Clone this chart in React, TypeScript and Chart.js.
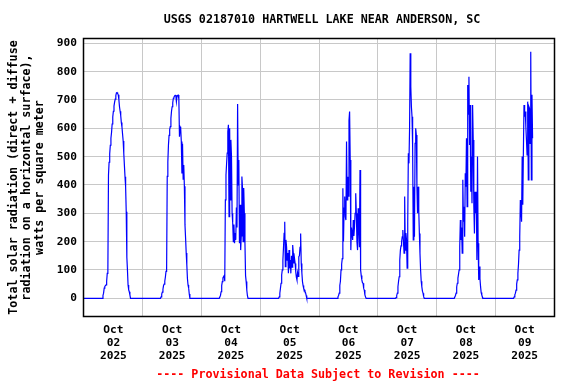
import React, { useEffect, useRef } from "react";
import { Chart, registerables } from "chart.js";

Chart.register(...registerables);

const TITLE = "USGS 02187010 HARTWELL LAKE NEAR ANDERSON, SC";
const Y_TITLE = [
  "Total solar radiation (direct + diffuse",
  "radiation on a horizontal surface),",
  "watts per square meter",
];
const FOOTER = "---- Provisional Data Subject to Revision ----";

const DATE_LABELS = [
  ["Oct", "02", "2025"],
  ["Oct", "03", "2025"],
  ["Oct", "04", "2025"],
  ["Oct", "05", "2025"],
  ["Oct", "06", "2025"],
  ["Oct", "07", "2025"],
  ["Oct", "08", "2025"],
  ["Oct", "09", "2025"],
];
const Y_TICKS = [0, 100, 200, 300, 400, 500, 600, 700, 800, 900];

// Each daily array: 15-minute readings (W/m²) starting at 07:00 local time; night is 0.
const FIRST_READING_HOUR = 7;
const STEP_HOURS = 0.25;

const OCT02 = [0, 0, 0, 10, 18, 36, 42, 45, 47, 60, 88, 92, 435, 480, 510, 540, 565, 585, 615, 640, 660, 678, 692, 703, 715, 725, 726, 722, 718, 700, 676, 660, 645, 620, 605, 580, 555, 512, 470, 429, 394, 305, 145, 100, 47, 30, 23, 12, 0, 0, 0, 0];
const OCT03 = [0, 0, 5, 15, 22, 32, 45, 50, 60, 75, 95, 100, 430, 480, 541, 575, 595, 606, 635, 660, 676, 690, 706, 710, 714, 716, 717, 694, 714, 716, 717, 703, 570, 605, 600, 553, 440, 545, 420, 470, 395, 259, 212, 160, 118, 70, 47, 36, 15, 0, 0, 0];
const OCT04 = [0, 0, 0, 10, 23, 45, 59, 72, 76, 80, 60, 347, 435, 475, 512, 588, 612, 288, 600, 347, 559, 500, 300, 266, 200, 260, 194, 230, 206, 320, 250, 686, 400, 488, 194, 330, 170, 220, 430, 389, 200, 389, 300, 194, 80, 59, 29, 10, 0, 0, 0, 0];
const OCT05 = [0, 0, 0, 5, 18, 35, 53, 82, 100, 135, 180, 229, 270, 112, 206, 182, 135, 160, 88, 170, 105, 135, 88, 150, 110, 188, 159, 123, 140, 123, 94, 75, 65, 90, 77, 147, 150, 180, 229, 123, 90, 59, 45, 35, 30, 25, 20, 10, 0, 0, 0, 0];
const OCT06 = [0, 0, 0, 5, 10, 18, 45, 60, 100, 120, 140, 388, 200, 318, 359, 288, 276, 553, 347, 429, 360, 627, 659, 488, 170, 250, 229, 206, 276, 220, 253, 300, 371, 300, 200, 170, 318, 250, 180, 453, 100, 80, 65, 55, 53, 35, 29, 12, 5, 0, 0, 0];
const OCT07 = [0, 0, 2, 10, 18, 41, 60, 76, 135, 170, 185, 200, 217, 241, 200, 159, 359, 170, 230, 206, 106, 270, 512, 476, 600, 865, 747, 676, 641, 535, 206, 394, 217, 547, 600, 576, 394, 300, 394, 312, 229, 159, 100, 60, 41, 25, 18, 6, 0, 0, 0, 0];
const OCT08 = [0, 0, 0, 10, 18, 40, 53, 71, 85, 100, 182, 276, 206, 250, 159, 418, 270, 323, 217, 441, 394, 565, 323, 753, 650, 782, 541, 682, 376, 500, 335, 682, 559, 323, 229, 376, 300, 376, 135, 500, 194, 65, 112, 70, 41, 20, 12, 5, 0, 0, 0, 0];
const OCT09 = [0, 0, 0, 5, 12, 18, 29, 50, 65, 88, 120, 170, 217, 347, 312, 270, 500, 330, 523, 682, 641, 659, 606, 559, 506, 694, 418, 676, 670, 547, 870, 418, 718, 565];

const DAYS = [OCT02, OCT03, OCT04, OCT05, OCT06, OCT07, OCT08, OCT09];

const FONT_FAMILY = '"DejaVu Sans Mono", monospace';

function buildPoints() {
  const pts: { x: number; y: number }[] = [{ x: 0, y: 0 }];
  DAYS.forEach((vals, d) => {
    vals.forEach((v, i) => {
      pts.push({ x: d * 24 + FIRST_READING_HOUR + i * STEP_HOURS, y: v });
    });
  });
  return pts;
}

const textPlugin = {
  id: "usgsTexts",
  afterDraw(chart: any) {
    const { ctx, chartArea: a } = chart;
    ctx.save();
    // plot frame
    ctx.strokeStyle = "#000";
    ctx.lineWidth = 1.5;
    ctx.strokeRect(a.left - 0.5, a.top - 0.5, a.right - a.left + 1, a.bottom - a.top + 1);
    // title
    ctx.fillStyle = "#000";
    ctx.font = `bold 11.7px ${FONT_FAMILY}`;
    ctx.textAlign = "center";
    ctx.textBaseline = "middle";
    ctx.fillText(TITLE, 322, 20);
    // footer
    ctx.fillStyle = "#ff0000";
    ctx.fillText(FOOTER, 318, 375);
    // y axis title
    ctx.fillStyle = "#000";
    const cy = (a.top + a.bottom) / 2;
    const xs = [14, 27, 40];
    Y_TITLE.forEach((line, i) => {
      ctx.save();
      ctx.translate(xs[i], cy);
      ctx.rotate(-Math.PI / 2);
      ctx.fillText(line, 0, 0);
      ctx.restore();
    });
    ctx.restore();
  },
};

export default function App() {
  const canvasRef = useRef<HTMLCanvasElement | null>(null);

  useEffect(() => {
    const canvas = canvasRef.current;
    if (!canvas) return;
    const xTicks = DATE_LABELS.flatMap((_, i) => [i * 24 + 12, i * 24 + 24]).filter((v) => v < DATE_LABELS.length * 24);
    const chart = new Chart(canvas, {
      type: "line",
      data: {
        datasets: [
          {
            data: buildPoints(),
            borderColor: "#0000ff",
            borderWidth: 1.2,
            pointRadius: 0,
            tension: 0,
            fill: false,
          },
        ],
      },
      options: {
        responsive: false,
        animation: false,
        devicePixelRatio: 1,
        parsing: false as any,
        layout: { padding: { left: 0, right: 22, top: 39, bottom: 0 } },
        plugins: {
          legend: { display: false },
          tooltip: { enabled: false },
          title: { display: false },
        },
        scales: {
          x: {
            type: "linear",
            min: 0,
            max: DATE_LABELS.length * 24,
            afterBuildTicks: (s: any) => {
              s.ticks = xTicks.map((v) => ({ value: v }));
            },
            afterFit: (s: any) => {
              s.height = 68;
            },
            grid: {
              color: (c: any) =>
                c.tick && c.tick.value % 24 === 0 ? "#c8c8c8" : "rgba(0,0,0,0)",
              drawTicks: false,
              lineWidth: 1,
            },
            border: { display: false },
            ticks: {
              autoSkip: false,
              maxRotation: 0,
              minRotation: 0,
              padding: 8,
              color: "#000",
              font: { family: FONT_FAMILY, size: 11.2, weight: "bold", lineHeight: 1.13 },
              callback: (value: any) => {
                const v = Number(value);
                if ((v - 12) % 24 === 0) return DATE_LABELS[(v - 12) / 24];
                return "";
              },
            },
          },
          y: {
            min: -62.5,
            max: 915,
            afterBuildTicks: (s: any) => {
              s.ticks = Y_TICKS.map((v) => ({ value: v }));
            },
            afterFit: (s: any) => {
              s.width = 84;
            },
            grid: { color: "#c8c8c8", drawTicks: false, lineWidth: 1 },
            border: { display: false },
            ticks: {
              padding: 7,
              color: "#000",
              font: { family: FONT_FAMILY, size: 11.2, weight: "bold" },
              callback: (value: any) => String(value),
            },
          },
        },
      },
      plugins: [textPlugin],
    });
    return () => chart.destroy();
  }, []);

  return (
    <div
      style={{
        position: "fixed",
        left: 0,
        top: 0,
        width: 576,
        height: 384,
        background: "#fff",
      }}
    >
      <canvas ref={canvasRef} width={576} height={384} />
    </div>
  );
}
